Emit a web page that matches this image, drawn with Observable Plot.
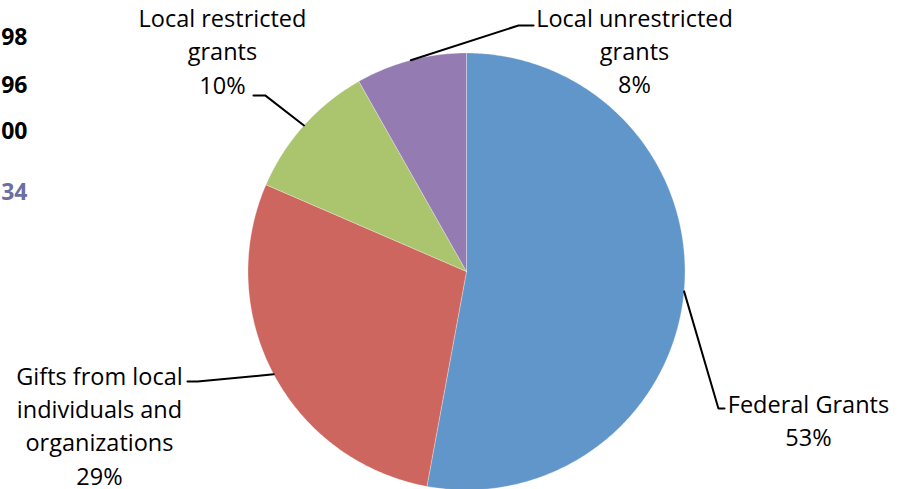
<!DOCTYPE html>
<html>
<head>
<meta charset="utf-8">
<script src="https://cdn.jsdelivr.net/npm/d3@7"></script>
<script src="https://cdn.jsdelivr.net/npm/@observablehq/plot@0.6"></script>
<style>
  html, body { margin: 0; padding: 0; background: #fff; }
</style>
</head>
<body>
<div id="chart"></div>
<script>
// ---- data ----
const names = ["Federal Grants", "Gifts from local individuals and organizations", "Local restricted grants", "Local unrestricted grants"];
const labelText = ["Federal Grants", "Gifts from local\nindividuals and\norganizations", "Local restricted\ngrants", "Local unrestricted\ngrants"];
const values = [52.9, 28.6, 10.3, 8.2];
const colors = ["#6096CA", "#CD665F", "#ABC46E", "#947BB1"];
const sideText = ["98", "96", "00", "34"];
const sideColors = ["#000000", "#000000", "#000000", "#6B6E9F"];

// ---- layout (unit-circle coordinates) ----
const labelPos = [
  {x: 1.565, y: -0.675, elbow: [1.153, -0.627], end: [1.181, -0.627]},
  {x: -1.68, y: -0.698, elbow: [-1.231, -0.503], end: [-1.277, -0.503]},
  {x: -1.117, y: 1.015, elbow: [-0.920, 0.805], end: [-0.975, 0.805]},
  {x: 0.769, y: 1.017, elbow: [0.238, 1.126], end: [0.307, 1.126]}
];
const sidePos = {x: -2.009, y: [1.069, 0.849, 0.638, 0.362]};

const total = d3.sum(values);
const pie = d3.pie().sort(null).startAngle(0).endAngle(2 * Math.PI)(values);

// slice polygons
const slicePts = [];
pie.forEach((a, i) => {
  slicePts.push({name: names[i], x: 0, y: 0});
  const n = Math.max(8, Math.ceil((a.endAngle - a.startAngle) / 0.01));
  for (let k = 0; k <= n; k++) {
    const t = a.startAngle + (a.endAngle - a.startAngle) * k / n;
    slicePts.push({name: names[i], x: Math.sin(t), y: Math.cos(t)});
  }
  slicePts.push({name: names[i], x: 0, y: 0});
});

// leader lines
const leaderPts = [];
pie.forEach((a, i) => {
  const m = (a.startAngle + a.endAngle) / 2;
  const L = labelPos[i];
  leaderPts.push({name: names[i], x: Math.sin(m), y: Math.cos(m)});
  leaderPts.push({name: names[i], x: L.elbow[0], y: L.elbow[1]});
  leaderPts.push({name: names[i], x: L.end[0], y: L.end[1]});
});

const labels = names.map((n, i) => ({
  name: n,
  text: labelText[i] + "\n" + Math.round(values[i] / total * 100) + "%",
  x: labelPos[i].x,
  y: labelPos[i].y
}));

const side = sideText.map((t, i) => ({text: t, color: sideColors[i], x: sidePos.x, y: sidePos.y[i]}));

const cx = 466, cy = 271, r = 218.5;

const chart = Plot.plot({
  width: 908,
  height: 489,
  margin: 0,
  x: {domain: [-1, 1], range: [cx - r, cx + r], axis: null},
  y: {domain: [-1, 1], range: [cy + r, cy - r], axis: null},
  color: {domain: names, range: colors},
  style: {fontFamily: "'Open Sans', Lato, sans-serif", background: "#fff"},
  marks: [
    Plot.line(slicePts, {x: "x", y: "y", z: "name", fill: "name", stroke: "#ffffff", strokeWidth: 0.6, strokeOpacity: 0.5, curve: "linear"}),
    Plot.line(leaderPts, {x: "x", y: "y", z: "name", stroke: "#000", strokeWidth: 2, curve: "linear"}),
    Plot.text(labels, {x: "x", y: "y", text: "text", fontSize: 23.5, lineHeight: 1.42, textAnchor: "middle", lineAnchor: "middle", fill: "#000"}),
    Plot.text(side, {x: "x", y: "y", text: "text", fontSize: 23, fontWeight: "bold", textAnchor: "end", lineAnchor: "middle", fill: "color"})
  ]
});
document.getElementById("chart").appendChild(chart);
</script>
</body>
</html>
